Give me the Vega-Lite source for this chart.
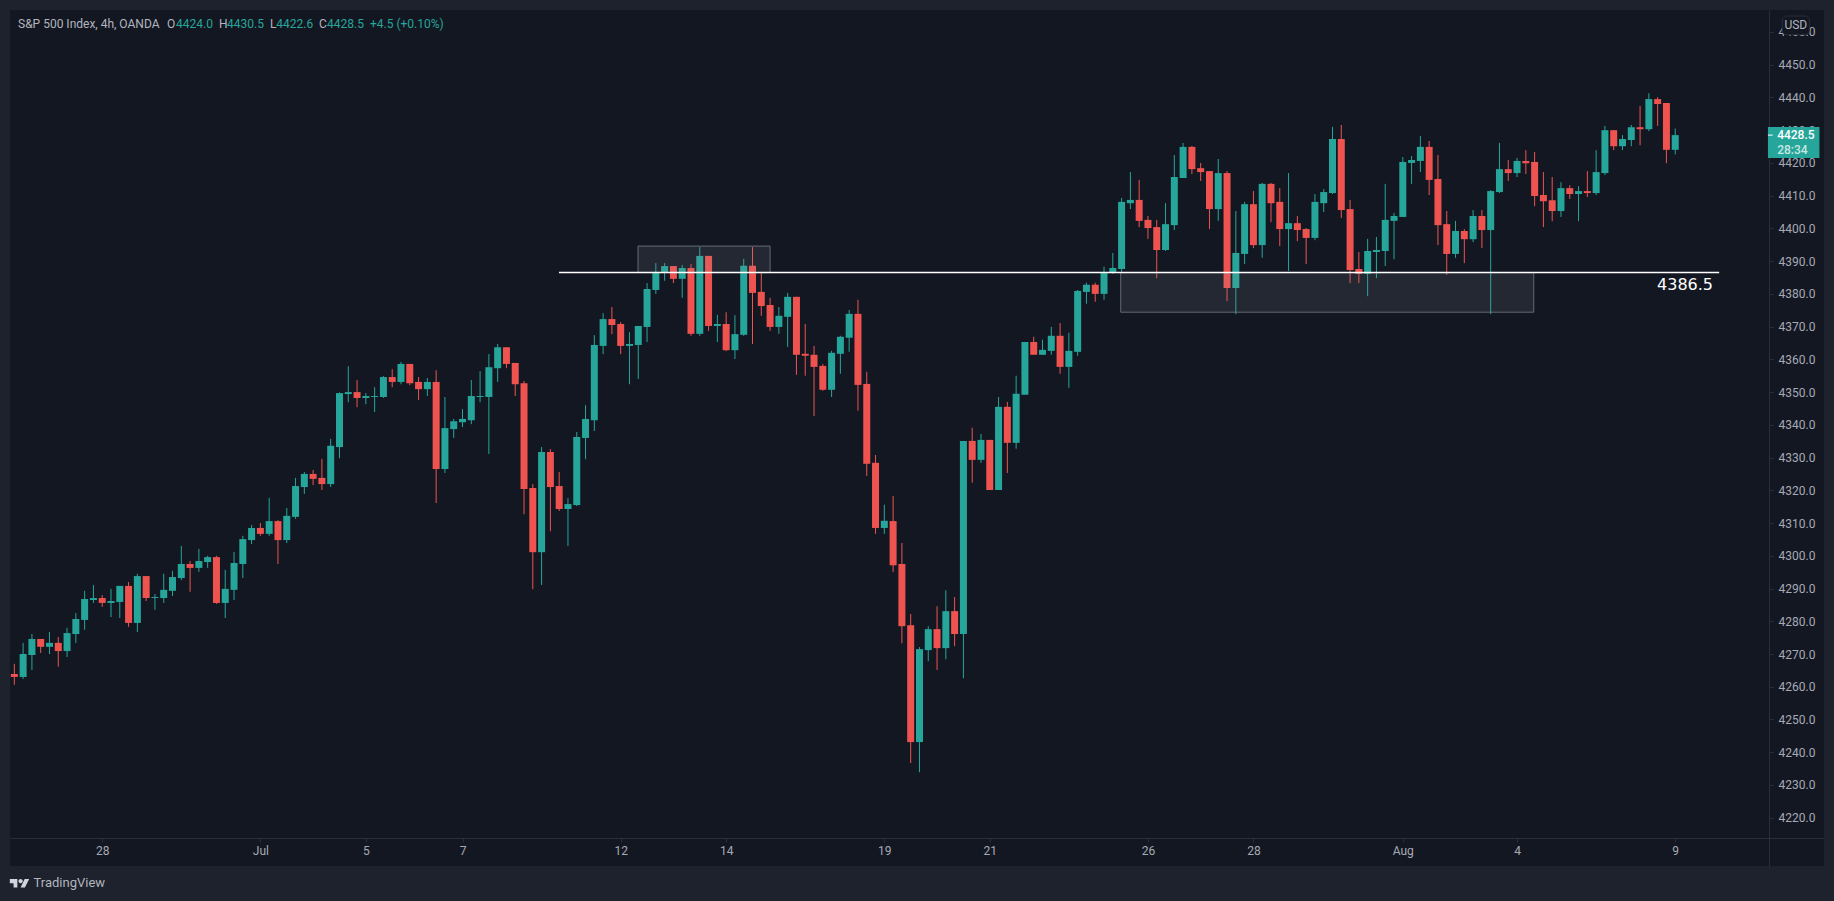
{
  "$schema": "https://vega.github.io/schema/vega-lite/v6.json",
  "width": 1814,
  "height": 856,
  "autosize": {"type": "none"},
  "padding": {"left": 10, "top": 10, "right": 10, "bottom": 35},
  "background": "#1e222d",
  "view": {"fill": "#131722", "stroke": null},
  "datasets": {
    "candles": [
      {"bar":0,"open":4263.9,"high":4267.0,"low":4260.6,"close":4263.0},
      {"bar":1,"open":4263.0,"high":4273.4,"low":4262.4,"close":4270.0},
      {"bar":2,"open":4269.7,"high":4276.1,"low":4265.1,"close":4274.6},
      {"bar":3,"open":4274.6,"high":4274.6,"low":4270.3,"close":4272.2},
      {"bar":4,"open":4272.2,"high":4276.7,"low":4270.0,"close":4273.4},
      {"bar":5,"open":4273.4,"high":4275.2,"low":4266.1,"close":4270.9},
      {"bar":6,"open":4270.9,"high":4278.0,"low":4269.1,"close":4276.4},
      {"bar":7,"open":4276.1,"high":4282.5,"low":4273.4,"close":4280.7},
      {"bar":8,"open":4280.4,"high":4289.3,"low":4277.4,"close":4286.8},
      {"bar":9,"open":4286.5,"high":4291.1,"low":4285.6,"close":4287.1},
      {"bar":10,"open":4287.1,"high":4288.0,"low":4284.4,"close":4285.6},
      {"bar":11,"open":4285.6,"high":4289.9,"low":4281.3,"close":4286.2},
      {"bar":12,"open":4285.9,"high":4290.8,"low":4281.0,"close":4290.8},
      {"bar":13,"open":4290.8,"high":4292.0,"low":4278.3,"close":4279.5},
      {"bar":14,"open":4279.5,"high":4294.5,"low":4276.7,"close":4293.8},
      {"bar":15,"open":4293.8,"high":4293.8,"low":4286.2,"close":4287.1},
      {"bar":16,"open":4287.1,"high":4288.3,"low":4283.5,"close":4287.4},
      {"bar":17,"open":4287.1,"high":4294.5,"low":4285.6,"close":4289.6},
      {"bar":18,"open":4289.3,"high":4295.4,"low":4287.7,"close":4293.5},
      {"bar":19,"open":4293.2,"high":4303.0,"low":4292.6,"close":4297.5},
      {"bar":20,"open":4297.5,"high":4298.4,"low":4289.0,"close":4296.3},
      {"bar":21,"open":4296.3,"high":4302.1,"low":4295.1,"close":4298.4},
      {"bar":22,"open":4298.1,"high":4300.0,"low":4296.3,"close":4299.6},
      {"bar":23,"open":4299.6,"high":4300.0,"low":4285.3,"close":4285.6},
      {"bar":24,"open":4285.6,"high":4295.7,"low":4281.0,"close":4289.9},
      {"bar":25,"open":4289.6,"high":4301.2,"low":4286.5,"close":4297.8},
      {"bar":26,"open":4297.5,"high":4306.1,"low":4293.2,"close":4305.1},
      {"bar":27,"open":4304.8,"high":4309.4,"low":4303.6,"close":4308.5},
      {"bar":28,"open":4308.5,"high":4310.0,"low":4306.1,"close":4306.7},
      {"bar":29,"open":4306.7,"high":4317.7,"low":4306.1,"close":4310.6},
      {"bar":30,"open":4310.6,"high":4310.9,"low":4297.5,"close":4304.8},
      {"bar":31,"open":4304.8,"high":4314.6,"low":4303.9,"close":4312.2},
      {"bar":32,"open":4311.9,"high":4323.8,"low":4311.3,"close":4321.3},
      {"bar":33,"open":4321.0,"high":4325.6,"low":4318.9,"close":4325.0},
      {"bar":34,"open":4325.0,"high":4326.2,"low":4321.6,"close":4323.5},
      {"bar":35,"open":4323.8,"high":4329.6,"low":4320.1,"close":4321.9},
      {"bar":36,"open":4321.9,"high":4335.7,"low":4321.0,"close":4333.6},
      {"bar":37,"open":4333.2,"high":4349.9,"low":4329.8,"close":4349.7},
      {"bar":38,"open":4349.4,"high":4357.9,"low":4346.9,"close":4350.0},
      {"bar":39,"open":4350.0,"high":4353.7,"low":4345.4,"close":4348.2},
      {"bar":40,"open":4348.2,"high":4349.7,"low":4346.3,"close":4348.8},
      {"bar":41,"open":4348.5,"high":4351.5,"low":4343.9,"close":4348.8},
      {"bar":42,"open":4348.5,"high":4354.9,"low":4348.2,"close":4354.6},
      {"bar":43,"open":4354.6,"high":4357.0,"low":4351.5,"close":4353.1},
      {"bar":44,"open":4353.1,"high":4359.2,"low":4352.4,"close":4358.6},
      {"bar":45,"open":4358.6,"high":4358.6,"low":4352.1,"close":4352.7},
      {"bar":46,"open":4353.1,"high":4354.6,"low":4347.6,"close":4350.9},
      {"bar":47,"open":4350.9,"high":4354.3,"low":4348.8,"close":4353.1},
      {"bar":48,"open":4353.1,"high":4356.7,"low":4316.1,"close":4326.5},
      {"bar":49,"open":4326.5,"high":4348.5,"low":4325.3,"close":4339.0},
      {"bar":50,"open":4338.7,"high":4341.8,"low":4336.0,"close":4341.1},
      {"bar":51,"open":4340.8,"high":4344.8,"low":4339.3,"close":4341.8},
      {"bar":52,"open":4341.4,"high":4353.7,"low":4340.2,"close":4348.8},
      {"bar":53,"open":4348.5,"high":4356.4,"low":4346.9,"close":4348.8},
      {"bar":54,"open":4348.5,"high":4361.6,"low":4331.1,"close":4357.6},
      {"bar":55,"open":4357.3,"high":4364.7,"low":4353.1,"close":4363.7},
      {"bar":56,"open":4363.7,"high":4363.7,"low":4357.3,"close":4358.6},
      {"bar":57,"open":4358.9,"high":4358.9,"low":4348.8,"close":4352.4},
      {"bar":58,"open":4352.7,"high":4353.4,"low":4312.7,"close":4320.4},
      {"bar":59,"open":4320.7,"high":4321.9,"low":4289.8,"close":4301.1},
      {"bar":60,"open":4301.1,"high":4333.2,"low":4291.1,"close":4331.7},
      {"bar":61,"open":4331.7,"high":4332.6,"low":4307.5,"close":4321.0},
      {"bar":62,"open":4321.3,"high":4325.6,"low":4313.7,"close":4314.3},
      {"bar":63,"open":4314.3,"high":4317.6,"low":4303.0,"close":4315.8},
      {"bar":64,"open":4315.5,"high":4337.8,"low":4315.2,"close":4336.3},
      {"bar":65,"open":4336.0,"high":4346.0,"low":4329.5,"close":4341.8},
      {"bar":66,"open":4341.4,"high":4367.4,"low":4338.1,"close":4364.4},
      {"bar":67,"open":4364.1,"high":4374.1,"low":4361.6,"close":4372.3},
      {"bar":68,"open":4372.3,"high":4376.0,"low":4367.7,"close":4370.5},
      {"bar":69,"open":4370.8,"high":4371.4,"low":4361.6,"close":4364.1},
      {"bar":70,"open":4364.1,"high":4368.3,"low":4352.4,"close":4364.7},
      {"bar":71,"open":4364.4,"high":4370.2,"low":4354.0,"close":4370.2},
      {"bar":72,"open":4369.9,"high":4383.3,"low":4365.3,"close":4381.5},
      {"bar":73,"open":4381.2,"high":4389.4,"low":4380.0,"close":4386.7},
      {"bar":74,"open":4386.7,"high":4389.4,"low":4384.0,"close":4388.5},
      {"bar":75,"open":4388.5,"high":4388.5,"low":4383.3,"close":4384.6},
      {"bar":76,"open":4384.6,"high":4388.8,"low":4378.8,"close":4387.9},
      {"bar":77,"open":4387.9,"high":4389.1,"low":4367.2,"close":4367.8},
      {"bar":78,"open":4367.8,"high":4394.3,"low":4367.2,"close":4391.6},
      {"bar":79,"open":4391.6,"high":4391.6,"low":4368.7,"close":4370.2},
      {"bar":80,"open":4370.2,"high":4373.6,"low":4365.3,"close":4370.8},
      {"bar":81,"open":4370.8,"high":4374.4,"low":4362.5,"close":4362.8},
      {"bar":82,"open":4362.8,"high":4373.5,"low":4360.1,"close":4367.7},
      {"bar":83,"open":4367.5,"high":4390.7,"low":4367.2,"close":4388.6},
      {"bar":84,"open":4388.6,"high":4394.3,"low":4364.7,"close":4380.3},
      {"bar":85,"open":4380.6,"high":4386.7,"low":4373.3,"close":4376.3},
      {"bar":86,"open":4376.6,"high":4378.8,"low":4368.7,"close":4369.9},
      {"bar":87,"open":4369.9,"high":4376.0,"low":4367.8,"close":4373.3},
      {"bar":88,"open":4373.0,"high":4380.3,"low":4363.8,"close":4379.1},
      {"bar":89,"open":4379.1,"high":4379.1,"low":4355.3,"close":4361.4},
      {"bar":90,"open":4361.7,"high":4370.8,"low":4355.0,"close":4361.1},
      {"bar":91,"open":4361.4,"high":4364.1,"low":4342.7,"close":4357.7},
      {"bar":92,"open":4358.0,"high":4358.6,"low":4350.4,"close":4350.7},
      {"bar":93,"open":4350.7,"high":4362.6,"low":4348.5,"close":4362.0},
      {"bar":94,"open":4361.7,"high":4367.2,"low":4355.6,"close":4366.9},
      {"bar":95,"open":4366.6,"high":4375.1,"low":4362.3,"close":4373.9},
      {"bar":96,"open":4373.9,"high":4378.2,"low":4344.3,"close":4352.2},
      {"bar":97,"open":4352.5,"high":4356.2,"low":4324.4,"close":4328.1},
      {"bar":98,"open":4328.4,"high":4330.8,"low":4306.7,"close":4308.5},
      {"bar":99,"open":4308.5,"high":4315.6,"low":4306.7,"close":4310.7},
      {"bar":100,"open":4310.6,"high":4318.3,"low":4295.0,"close":4297.1},
      {"bar":101,"open":4297.5,"high":4303.9,"low":4273.3,"close":4278.5},
      {"bar":102,"open":4278.8,"high":4282.2,"low":4236.7,"close":4243.1},
      {"bar":103,"open":4243.1,"high":4272.1,"low":4233.9,"close":4271.5},
      {"bar":104,"open":4271.2,"high":4278.5,"low":4267.8,"close":4277.6},
      {"bar":105,"open":4277.6,"high":4284.6,"low":4265.1,"close":4271.8},
      {"bar":106,"open":4271.8,"high":4289.5,"low":4268.4,"close":4283.1},
      {"bar":107,"open":4283.1,"high":4287.4,"low":4272.4,"close":4276.1},
      {"bar":108,"open":4276.1,"high":4335.1,"low":4262.6,"close":4335.1},
      {"bar":109,"open":4335.1,"high":4339.1,"low":4322.3,"close":4329.3},
      {"bar":110,"open":4329.3,"high":4337.2,"low":4328.4,"close":4335.4},
      {"bar":111,"open":4335.4,"high":4335.4,"low":4320.1,"close":4320.1},
      {"bar":112,"open":4320.1,"high":4348.5,"low":4320.1,"close":4345.5},
      {"bar":113,"open":4345.5,"high":4347.0,"low":4325.3,"close":4334.5},
      {"bar":114,"open":4334.5,"high":4355.0,"low":4332.7,"close":4349.5},
      {"bar":115,"open":4349.2,"high":4365.3,"low":4349.2,"close":4365.3},
      {"bar":116,"open":4365.3,"high":4366.9,"low":4361.4,"close":4361.4},
      {"bar":117,"open":4361.4,"high":4366.0,"low":4361.4,"close":4362.9},
      {"bar":118,"open":4362.6,"high":4369.9,"low":4361.4,"close":4367.2},
      {"bar":119,"open":4367.2,"high":4371.1,"low":4355.6,"close":4357.7},
      {"bar":120,"open":4357.7,"high":4368.1,"low":4351.3,"close":4362.6},
      {"bar":121,"open":4362.3,"high":4381.2,"low":4361.1,"close":4380.9},
      {"bar":122,"open":4380.6,"high":4383.4,"low":4377.0,"close":4382.8},
      {"bar":123,"open":4382.8,"high":4383.4,"low":4377.6,"close":4380.0},
      {"bar":124,"open":4380.0,"high":4388.3,"low":4378.2,"close":4386.4},
      {"bar":125,"open":4386.4,"high":4392.5,"low":4386.1,"close":4387.9},
      {"bar":126,"open":4387.6,"high":4409.3,"low":4386.4,"close":4408.1},
      {"bar":127,"open":4407.7,"high":4417.2,"low":4405.9,"close":4408.7},
      {"bar":128,"open":4408.7,"high":4414.8,"low":4400.4,"close":4402.3},
      {"bar":129,"open":4402.6,"high":4403.8,"low":4396.8,"close":4400.1},
      {"bar":130,"open":4400.4,"high":4402.6,"low":4384.8,"close":4393.4},
      {"bar":131,"open":4393.4,"high":4407.7,"low":4393.1,"close":4401.3},
      {"bar":132,"open":4401.0,"high":4422.4,"low":4399.5,"close":4415.7},
      {"bar":133,"open":4415.4,"high":4426.1,"low":4415.4,"close":4424.9},
      {"bar":134,"open":4424.9,"high":4425.2,"low":4416.6,"close":4418.1},
      {"bar":135,"open":4418.4,"high":4420.0,"low":4414.5,"close":4417.2},
      {"bar":136,"open":4417.5,"high":4417.5,"low":4399.8,"close":4405.9},
      {"bar":137,"open":4405.9,"high":4421.2,"low":4402.3,"close":4416.9},
      {"bar":138,"open":4416.9,"high":4417.5,"low":4377.8,"close":4381.8},
      {"bar":139,"open":4381.8,"high":4405.3,"low":4373.8,"close":4392.5},
      {"bar":140,"open":4392.2,"high":4408.1,"low":4389.1,"close":4407.4},
      {"bar":141,"open":4407.4,"high":4411.4,"low":4394.0,"close":4394.9},
      {"bar":142,"open":4394.9,"high":4413.9,"low":4391.0,"close":4413.6},
      {"bar":143,"open":4413.6,"high":4413.9,"low":4401.9,"close":4407.7},
      {"bar":144,"open":4408.1,"high":4412.3,"low":4394.6,"close":4399.8},
      {"bar":145,"open":4399.8,"high":4416.9,"low":4387.0,"close":4401.6},
      {"bar":146,"open":4401.6,"high":4403.8,"low":4396.1,"close":4399.5},
      {"bar":147,"open":4399.8,"high":4400.1,"low":4389.1,"close":4397.1},
      {"bar":148,"open":4397.1,"high":4410.5,"low":4396.4,"close":4408.1},
      {"bar":149,"open":4407.7,"high":4412.0,"low":4405.0,"close":4411.1},
      {"bar":150,"open":4410.8,"high":4431.0,"low":4410.5,"close":4427.3},
      {"bar":151,"open":4427.3,"high":4431.6,"low":4403.2,"close":4405.6},
      {"bar":152,"open":4405.9,"high":4408.7,"low":4383.3,"close":4387.3},
      {"bar":153,"open":4387.6,"high":4392.8,"low":4383.3,"close":4386.1},
      {"bar":154,"open":4386.1,"high":4396.8,"low":4379.3,"close":4393.1},
      {"bar":155,"open":4392.8,"high":4397.4,"low":4384.8,"close":4393.4},
      {"bar":156,"open":4393.1,"high":4413.6,"low":4388.5,"close":4402.6},
      {"bar":157,"open":4402.3,"high":4404.7,"low":4390.6,"close":4403.8},
      {"bar":158,"open":4403.5,"high":4421.8,"low":4403.5,"close":4420.3},
      {"bar":159,"open":4420.0,"high":4422.1,"low":4413.6,"close":4420.9},
      {"bar":160,"open":4420.6,"high":4428.2,"low":4417.2,"close":4424.9},
      {"bar":161,"open":4424.9,"high":4426.7,"low":4410.2,"close":4414.8},
      {"bar":162,"open":4415.1,"high":4422.4,"low":4394.9,"close":4401.0},
      {"bar":163,"open":4401.3,"high":4405.3,"low":4385.8,"close":4392.2},
      {"bar":164,"open":4392.2,"high":4402.3,"low":4391.0,"close":4399.2},
      {"bar":165,"open":4399.2,"high":4399.8,"low":4389.4,"close":4396.7},
      {"bar":166,"open":4396.7,"high":4405.6,"low":4395.8,"close":4403.8},
      {"bar":167,"open":4403.8,"high":4405.6,"low":4394.0,"close":4399.5},
      {"bar":168,"open":4399.5,"high":4411.7,"low":4373.8,"close":4411.4},
      {"bar":169,"open":4411.1,"high":4426.1,"low":4410.8,"close":4418.1},
      {"bar":170,"open":4418.1,"high":4420.9,"low":4414.5,"close":4416.9},
      {"bar":171,"open":4416.9,"high":4421.5,"low":4415.7,"close":4420.6},
      {"bar":172,"open":4420.6,"high":4423.9,"low":4416.6,"close":4419.9},
      {"bar":173,"open":4420.3,"high":4423.3,"low":4406.8,"close":4409.9},
      {"bar":174,"open":4410.2,"high":4417.2,"low":4400.4,"close":4408.3},
      {"bar":175,"open":4408.6,"high":4415.7,"low":4402.2,"close":4405.3},
      {"bar":176,"open":4405.3,"high":4414.1,"low":4403.5,"close":4412.3},
      {"bar":177,"open":4412.3,"high":4413.2,"low":4409.0,"close":4410.5},
      {"bar":178,"open":4410.5,"high":4412.9,"low":4402.2,"close":4411.4},
      {"bar":179,"open":4411.4,"high":4417.5,"low":4409.6,"close":4410.8},
      {"bar":180,"open":4410.8,"high":4423.9,"low":4410.2,"close":4417.2},
      {"bar":181,"open":4416.9,"high":4431.3,"low":4416.3,"close":4430.0},
      {"bar":182,"open":4430.0,"high":4430.0,"low":4423.9,"close":4425.1},
      {"bar":183,"open":4425.1,"high":4428.5,"low":4423.9,"close":4427.3},
      {"bar":184,"open":4427.0,"high":4431.6,"low":4425.1,"close":4430.9},
      {"bar":185,"open":4430.9,"high":4437.4,"low":4425.4,"close":4430.3},
      {"bar":186,"open":4430.3,"high":4441.3,"low":4429.7,"close":4439.5},
      {"bar":187,"open":4439.5,"high":4440.1,"low":4431.3,"close":4438.0},
      {"bar":188,"open":4438.3,"high":4438.3,"low":4419.9,"close":4424.0},
      {"bar":189,"open":4424.0,"high":4430.5,"low":4422.6,"close":4428.5}
    ],
    "zones": [
      {"bar":70.97,"bar2":86.0,"top":4394.6,"bottom":4386.5},
      {"bar":125.9,"bar2":172.9,"top":4386.5,"bottom":4374.4}
    ],
    "level": [
      {"bar":61.98,"bar2":194.0,"price":4386.5,"label":"4386.5","labelBar":193.3,"labelPrice":4382.7}
    ],
    "header": [
      {"bar":0.42,"price":4462.4,"label":"S&P 500 Index, 4h, OANDA","kind":"name"},
      {"bar":17.37,"price":4462.4,"label":"O","kind":"name"},
      {"bar":18.4,"price":4462.4,"label":"4424.0","kind":"value"},
      {"bar":23.29,"price":4462.4,"label":"H","kind":"name"},
      {"bar":24.2,"price":4462.4,"label":"4430.5","kind":"value"},
      {"bar":29.09,"price":4462.4,"label":"L","kind":"name"},
      {"bar":29.81,"price":4462.4,"label":"4422.6","kind":"value"},
      {"bar":34.67,"price":4462.4,"label":"C","kind":"name"},
      {"bar":35.58,"price":4462.4,"label":"4428.5","kind":"value"},
      {"bar":40.47,"price":4462.4,"label":"+4.5 (+0.10%)","kind":"value"}
    ],
    "lastPrice": [
      {"bar":199.55,"bar2":205.41,"top":4431.0,"bottom":4421.5}
    ],
    "lastPriceTick": [
      {"bar":199.55,"bar2":200.1,"price":4428.5}
    ],
    "lastPriceText": [
      {"bar":200.6,"price":4428.5,"label":"4428.5","kind":"price"},
      {"bar":200.6,"price":4424.0,"label":"28:34","kind":"countdown"}
    ],
    "currency": [
      {"bar":201.18,"bar2":204.26,"top":4464.87,"bottom":4459.16,"label":"USD","mid":202.72,"midPrice":4462.0}
    ],
    "brand": [
      {"bar":2.18,"price":4200.0,"label":"TradingView","logoBar":0.59}
    ]
  },
  "config": {
    "axisY": {
      "orient": "right",
      "offset": -55,
      "grid": false,
      "domainColor": "#2a2e39",
      "tickColor": "#2a2e39",
      "tickSize": 4,
      "tickCount": 26,
      "labelColor": "#a7aab3",
      "labelFont": "Roboto",
      "labelFontSize": 12,
      "labelPadding": 5,
      "labelOverlap": false
    }
  },
  "encoding": {
    "x": {
      "field": "bar",
      "type": "quantitative",
      "title": null,
      "scale": {"domain": [-0.493, 205.93], "padding": 0},
      "axis": {
        "orient": "bottom",
        "offset": -28,
        "values": [10, 28, 40, 51, 69, 81, 99, 111, 129, 141, 158, 171, 189],
        "labelExpr": "{'10':'28','28':'Jul','40':'5','51':'7','69':'12','81':'14','99':'19','111':'21','129':'26','141':'28','158':'Aug','171':'4','189':'9'}[datum.value]",
        "grid": false,
        "title": null,
        "domainColor": "#2a2e39",
        "tickColor": "#2a2e39",
        "tickSize": 4,
        "labelColor": "#a7aab3",
        "labelFont": "Roboto",
        "labelFontSize": 12,
        "labelPadding": 3,
        "labelFlush": false,
        "labelOverlap": false
      }
    }
  },
  "layer": [
    {
      "data": {"name": "candles"},
      "mark": {"type": "rule", "strokeWidth": 1},
      "encoding": {
        "y": {
          "field": "low",
          "type": "quantitative",
          "title": null,
          "scale": {"domain": [4205.25, 4466.71], "nice": false, "zero": false, "padding": 0},
          "axis": {
            "orient": "right",
            "offset": -55,
            "values": [4220, 4230, 4240, 4250, 4260, 4270, 4280, 4290, 4300, 4310, 4320, 4330, 4340, 4350, 4360, 4370, 4380, 4390, 4400, 4410, 4420, 4430, 4440, 4450, 4460],
            "tickCount": 26,
            "labelExpr": "format(datum.value, '.1f')",
            "title": null,
            "labelOverlap": false
          }
        },
        "y2": {"field": "high"},
        "color": {"condition": {"test": "datum.close >= datum.open", "value": "#26a69a"}, "value": "#ef5350"}
      }
    },
    {
      "data": {"name": "candles"},
      "mark": {"type": "bar", "size": 7},
      "encoding": {
        "y": {"field": "open", "type": "quantitative", "title": null, "scale": {"domain": [4205.25, 4466.71], "nice": false, "zero": false, "padding": 0}},
        "y2": {"field": "close"},
        "color": {"condition": {"test": "datum.close >= datum.open", "value": "#26a69a"}, "value": "#ef5350"}
      }
    },
    {
      "data": {"name": "zones"},
      "mark": {"type": "rect", "fill": "#9598a1", "fillOpacity": 0.13, "stroke": "#787b86", "strokeOpacity": 0.8, "strokeWidth": 1},
      "encoding": {
        "x2": {"field": "bar2"},
        "y": {"field": "top", "type": "quantitative", "title": null, "scale": {"domain": [4205.25, 4466.71], "nice": false, "zero": false, "padding": 0}},
        "y2": {"field": "bottom"}
      }
    },
    {
      "data": {"name": "level"},
      "mark": {"type": "rule", "color": "#ffffff", "strokeWidth": 1.5},
      "encoding": {
        "x2": {"field": "bar2"},
        "y": {"field": "price", "type": "quantitative", "title": null, "scale": {"domain": [4205.25, 4466.71], "nice": false, "zero": false, "padding": 0}}
      }
    },
    {
      "data": {"name": "level"},
      "mark": {"type": "text", "align": "right", "baseline": "middle", "font": "DejaVu Sans", "fontSize": 16, "color": "#ffffff"},
      "encoding": {
        "x": {"field": "labelBar", "type": "quantitative", "title": null, "scale": {"domain": [-0.493, 205.93], "padding": 0}},
        "y": {"field": "labelPrice", "type": "quantitative", "title": null, "scale": {"domain": [4205.25, 4466.71], "nice": false, "zero": false, "padding": 0}},
        "text": {"field": "label"}
      }
    },
    {
      "data": {"name": "header"},
      "mark": {"type": "text", "align": "left", "baseline": "middle", "font": "Roboto", "fontSize": 12},
      "encoding": {
        "y": {"field": "price", "type": "quantitative", "title": null, "scale": {"domain": [4205.25, 4466.71], "nice": false, "zero": false, "padding": 0}},
        "text": {"field": "label"},
        "color": {"field": "kind", "type": "nominal", "legend": null, "scale": {"domain": ["name", "value", "price", "countdown"], "range": ["#b2b5be", "#26a69a", "#ffffff", "#c8e6e3"]}}
      }
    },
    {
      "data": {"name": "lastPrice"},
      "mark": {"type": "rect", "fill": "#26a69a"},
      "encoding": {
        "x2": {"field": "bar2"},
        "y": {"field": "top", "type": "quantitative", "title": null, "scale": {"domain": [4205.25, 4466.71], "nice": false, "zero": false, "padding": 0}},
        "y2": {"field": "bottom"}
      }
    },
    {
      "data": {"name": "lastPriceTick"},
      "mark": {"type": "rule", "color": "#ffffff", "strokeWidth": 1},
      "encoding": {
        "x2": {"field": "bar2"},
        "y": {"field": "price", "type": "quantitative", "title": null, "scale": {"domain": [4205.25, 4466.71], "nice": false, "zero": false, "padding": 0}}
      }
    },
    {
      "data": {"name": "lastPriceText"},
      "mark": {"type": "text", "align": "left", "baseline": "middle", "font": "Roboto", "fontSize": 12, "fontWeight": 500},
      "encoding": {
        "y": {"field": "price", "type": "quantitative", "title": null, "scale": {"domain": [4205.25, 4466.71], "nice": false, "zero": false, "padding": 0}},
        "text": {"field": "label"},
        "color": {"field": "kind", "type": "nominal", "legend": null, "scale": {"domain": ["name", "value", "price", "countdown"], "range": ["#b2b5be", "#26a69a", "#ffffff", "#c8e6e3"]}}
      }
    },
    {
      "data": {"name": "currency"},
      "mark": {"type": "rect", "fill": "#131722", "stroke": "#2a2e39", "strokeWidth": 1, "cornerRadius": 4},
      "encoding": {
        "x2": {"field": "bar2"},
        "y": {"field": "top", "type": "quantitative", "title": null, "scale": {"domain": [4205.25, 4466.71], "nice": false, "zero": false, "padding": 0}},
        "y2": {"field": "bottom"}
      }
    },
    {
      "data": {"name": "currency"},
      "mark": {"type": "text", "align": "center", "baseline": "middle", "font": "Roboto", "fontSize": 12, "color": "#b2b5be"},
      "encoding": {
        "x": {"field": "mid", "type": "quantitative", "title": null, "scale": {"domain": [-0.493, 205.93], "padding": 0}},
        "y": {"field": "midPrice", "type": "quantitative", "title": null, "scale": {"domain": [4205.25, 4466.71], "nice": false, "zero": false, "padding": 0}},
        "text": {"field": "label"}
      }
    },
    {
      "data": {"name": "brand"},
      "mark": {"type": "text", "align": "left", "baseline": "middle", "font": "Roboto", "fontSize": 13, "color": "#b2b5be"},
      "encoding": {
        "y": {"field": "price", "type": "quantitative", "title": null, "scale": {"domain": [4205.25, 4466.71], "nice": false, "zero": false, "padding": 0}},
        "text": {"field": "label"}
      }
    },
    {
      "data": {"name": "brand"},
      "mark": {
        "type": "point",
        "filled": true,
        "opacity": 1,
        "size": 376,
        "color": "#d1d4dc",
        "shape": "M-1,-0.444H-0.222V0.444H-0.611V0H-1ZM0.556,0.444H0.111L0.528,-0.444H1ZM-0.111,-0.222A0.222,0.222 0 1 0 0.333,-0.222A0.222,0.222 0 1 0 -0.111,-0.222Z"
      },
      "encoding": {
        "x": {"field": "logoBar", "type": "quantitative", "title": null, "scale": {"domain": [-0.493, 205.93], "padding": 0}},
        "y": {"field": "price", "type": "quantitative", "title": null, "scale": {"domain": [4205.25, 4466.71], "nice": false, "zero": false, "padding": 0}}
      }
    }
  ]
}
